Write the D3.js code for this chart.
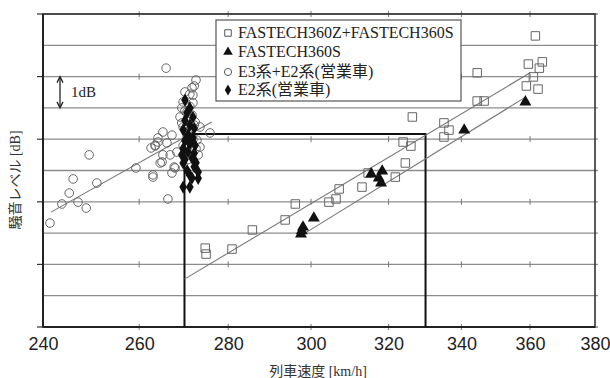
<!DOCTYPE html>
<html>
<head>
<meta charset="utf-8">
<script src="https://cdn.jsdelivr.net/npm/d3@7"></script>
<style>
  body { margin: 0; background: #fff; }
  svg { display: block; }
</style>
</head>
<body>
<svg id="chart" width="610" height="378"></svg>
<script>
'use strict';

// speed [km/h], relative level [dB] (axis has no absolute numbers)
var fastechZS = [
  [274.7, 2.52], [274.9, 2.33], [280.9, 2.49], [285.7, 3.10], [293.6, 3.42],
  [296.1, 3.93], [304.5, 3.99], [306.3, 4.09], [307.1, 4.41], [313.0, 4.47],
  [314.6, 4.92], [321.8, 4.79], [324.5, 5.24], [323.9, 5.91], [326.0, 5.78],
  [326.4, 6.71], [335.1, 6.52], [336.5, 6.29], [335.1, 6.07], [344.5, 8.12],
  [344.5, 7.22], [346.5, 7.22], [361.6, 9.30], [359.5, 8.40], [363.7, 8.47],
  [362.8, 8.27], [361.0, 7.99], [358.9, 7.70], [362.4, 7.60]
];
var fastechS = [
  [297.5, 2.97], [297.7, 3.07], [298.0, 3.19], [300.7, 3.48], [315.4, 4.89],
  [318.3, 4.98], [317.4, 4.76], [318.0, 4.60], [340.8, 6.29], [358.6, 7.19]
];
var e3e2 = [
  [241.4, 3.32], [243.8, 3.93], [245.3, 4.28], [246.1, 4.73], [247.1, 3.99],
  [248.8, 3.80], [251.0, 4.60], [249.4, 5.50], [259.3, 5.08], [263.0, 4.79],
  [262.6, 5.72], [263.5, 5.78], [264.1, 5.91], [266.3, 4.09], [267.7, 5.11],
  [267.2, 4.92], [265.0, 5.27], [264.6, 5.24], [265.9, 8.27], [272.6, 7.89],
  [272.2, 7.70], [271.7, 7.64], [271.2, 7.44], [271.9, 7.41], [270.1, 7.51],
  [269.7, 7.19], [271.9, 7.16], [269.4, 7.00], [270.6, 6.87], [269.0, 6.71],
  [271.7, 6.77], [269.4, 6.52], [272.4, 6.55], [273.5, 6.39], [275.8, 6.20],
  [265.2, 6.23], [267.2, 6.13], [264.1, 6.04], [263.5, 5.81], [266.1, 5.88],
  [265.2, 5.50], [266.8, 5.50], [268.3, 5.59], [267.9, 5.08], [270.6, 6.04],
  [272.8, 5.97], [273.5, 5.75], [273.1, 5.50], [271.2, 6.29], [269.7, 6.39],
  [263.0, 4.86], [270.1, 6.90], [271.2, 7.05], [272.2, 6.45], [270.6, 6.20],
  [271.9, 6.00], [269.7, 5.80], [272.6, 5.70], [270.8, 5.35]
];
var e2 = [
  [270.1, 7.25], [271.2, 7.00], [270.6, 6.85], [271.9, 6.70], [270.1, 6.60],
  [271.2, 6.45], [272.2, 6.35], [269.7, 6.30], [270.8, 6.15], [271.9, 6.05],
  [270.1, 5.95], [271.2, 5.85], [272.4, 5.80], [269.7, 5.70], [270.8, 5.60],
  [272.2, 5.55], [269.4, 5.50], [271.7, 5.40], [270.1, 5.35], [272.6, 5.25],
  [269.7, 5.24], [272.2, 5.12], [270.6, 5.00], [273.1, 4.95], [271.2, 4.85],
  [273.1, 4.75], [271.7, 4.76], [269.7, 4.47], [271.2, 4.47]
];

// regression lines (end points)
var fitZS = [[270, 1.53], [360.0, 8.12]];
var fitS = [[297, 2.88], [358.3, 7.32]];
var fitE3 = [[241.6, 3.67], [276.2, 6.55]];

// evaluation box: 270-330 km/h
var boxSpeeds = [270, 330];
var boxLevel = 6.17;

var xTicks = [240, 260, 280, 300, 320, 340, 360, 380];
var yGrid = d3.range(0, 11);
var legendLabels = ['FASTECH360Z+FASTECH360S', 'FASTECH360S', 'E3系+E2系(営業車)', 'E2系(営業車)'];

var svg = d3.select('#chart');
var plotL = 43, plotR = 595, plotT = 14, plotB = 327;

var x = d3.scaleLog().domain([240, 380]).range([plotL, plotR]);
var y = d3.scaleLinear().domain([0, 10]).range([plotB, plotT]);

var grid = svg.append('g');
// horizontal gridlines, every 1 dB
grid.selectAll('line.h').data(yGrid).enter().append('line')
  .attr('x1', plotL).attr('x2', plotR + 3)
  .attr('y1', function(d){ return y(d); }).attr('y2', function(d){ return y(d); })
  .attr('stroke', '#8c8c8c').attr('stroke-width', 1.3);

// little tick crosses on the even gridlines
yGrid.filter(function(d){ return d % 2 === 0; }).forEach(function(d){
  grid.selectAll(null).data(xTicks.slice(1, -1)).enter().append('line')
    .attr('x1', function(t){ return x(t); }).attr('x2', function(t){ return x(t); })
    .attr('y1', y(d) - 3).attr('y2', y(d) + 3)
    .attr('stroke', '#777').attr('stroke-width', 1);
  grid.append('line')
    .attr('x1', plotL - 6).attr('x2', plotL)
    .attr('y1', y(d)).attr('y2', y(d))
    .attr('stroke', '#333').attr('stroke-width', 1.2);
});

// frame
svg.append('rect')
  .attr('x', plotL).attr('y', plotT).attr('width', plotR - plotL).attr('height', plotB - plotT)
  .attr('fill', 'none').attr('stroke', '#333').attr('stroke-width', 1.6);
svg.append('line')
  .attr('x1', plotL).attr('x2', plotR).attr('y1', plotB).attr('y2', plotB)
  .attr('stroke', '#222').attr('stroke-width', 2);
svg.append('line')
  .attr('x1', plotL).attr('x2', plotL).attr('y1', plotT).attr('y2', plotB)
  .attr('stroke', '#222').attr('stroke-width', 2);

// x axis labels
var xAxis = d3.axisBottom(x).tickValues(xTicks).tickFormat(d3.format('d')).tickSize(0).tickPadding(10);
var gx = svg.append('g').attr('transform', 'translate(0,' + plotB + ')').call(xAxis);
gx.select('.domain').remove();
gx.selectAll('text')
  .attr('font-family', 'Liberation Sans, Arial, sans-serif')
  .attr('font-size', 18).attr('fill', '#222');

// box
var box = d3.path();
box.moveTo(x(boxSpeeds[0]), y(0));
box.lineTo(x(boxSpeeds[0]), y(boxLevel));
box.lineTo(x(boxSpeeds[1]), y(boxLevel));
box.lineTo(x(boxSpeeds[1]), y(0));
svg.append('path').attr('d', box.toString())
  .attr('fill', 'none').attr('stroke', '#111').attr('stroke-width', 2);

// regression lines
var line = d3.line().x(function(d){ return x(d[0]); }).y(function(d){ return y(d[1]); });
[fitZS, fitS, fitE3].forEach(function(f){
  svg.append('path').attr('d', line(f))
    .attr('fill', 'none').attr('stroke', '#777').attr('stroke-width', 1.1);
});

// markers
var pts = svg.append('g');
pts.selectAll('circle').data(e3e2).enter().append('circle')
  .attr('cx', function(d){ return x(d[0]); }).attr('cy', function(d){ return y(d[1]); })
  .attr('r', 4.3).attr('fill', 'none').attr('stroke', '#666').attr('stroke-width', 1);

var diamond = d3.symbol().type(d3.symbolDiamond).size(50);
pts.selectAll('path.e2').data(e2).enter().append('path')
  .attr('d', diamond)
  .attr('transform', function(d){ return 'translate(' + x(d[0]) + ',' + y(d[1]) + ')'; })
  .attr('fill', '#111');

var square = d3.symbol().type(d3.symbolSquare).size(72);
pts.selectAll('path.zs').data(fastechZS).enter().append('path')
  .attr('d', square)
  .attr('transform', function(d){ return 'translate(' + x(d[0]) + ',' + y(d[1]) + ')'; })
  .attr('fill', 'none').attr('stroke', '#666').attr('stroke-width', 1);

var triangle = d3.symbol().type(d3.symbolTriangle).size(62);
pts.selectAll('path.s').data(fastechS).enter().append('path')
  .attr('d', triangle)
  .attr('transform', function(d){ return 'translate(' + x(d[0]) + ',' + y(d[1]) + ')'; })
  .attr('fill', '#111');

// 1dB marker
var dbX = 60;
svg.append('line').attr('x1', dbX).attr('x2', dbX).attr('y1', y(8) + 1).attr('y2', y(7) - 1)
  .attr('stroke', '#222').attr('stroke-width', 1.3);
[[y(8), 1], [y(7), -1]].forEach(function(a){
  svg.append('path')
    .attr('d', 'M' + (dbX - 3) + ',' + (a[0] + 6 * a[1]) + 'L' + dbX + ',' + a[0] + 'L' + (dbX + 3) + ',' + (a[0] + 6 * a[1]))
    .attr('fill', 'none').attr('stroke', '#222').attr('stroke-width', 1.3);
});
svg.append('text').attr('x', 71).attr('y', y(7.5) + 5)
  .attr('font-family', 'Liberation Serif, Times New Roman, serif').attr('font-size', 15)
  .attr('fill', '#222').text('1dB');

// legend
var lg = svg.append('g').attr('transform', 'translate(216,20)');
lg.append('rect').attr('width', 245).attr('height', 81)
  .attr('fill', '#fff').attr('stroke', '#555').attr('stroke-width', 1.2);
var rowY = [13, 32, 52, 70];
var lgSymbols = [
  d3.symbol().type(d3.symbolSquare).size(42),
  d3.symbol().type(d3.symbolTriangle).size(40),
  d3.symbol().type(d3.symbolCircle).size(40),
  d3.symbol().type(d3.symbolDiamond).size(36)
];
legendLabels.forEach(function(lbl, i){
  var open = (i === 0 || i === 2);
  lg.append('path').attr('d', lgSymbols[i])
    .attr('transform', 'translate(12,' + rowY[i] + ')')
    .attr('fill', open ? 'none' : '#111')
    .attr('stroke', open ? '#555' : 'none').attr('stroke-width', 1);
  lg.append('text').attr('x', 22).attr('y', rowY[i] + 5)
    .attr('font-family', 'Liberation Serif, "Noto Sans CJK JP", serif').attr('font-size', 16)
    .attr('fill', '#222').text(lbl);
});

// axis titles
svg.append('text').attr('x', 318).attr('y', 376)
  .attr('text-anchor', 'middle')
  .attr('font-family', 'Liberation Serif, "Noto Sans CJK JP", serif').attr('font-size', 14)
  .attr('fill', '#333').text('列車速度 [km/h]');
svg.append('text')
  .attr('transform', 'translate(20,180) rotate(-90)')
  .attr('text-anchor', 'middle')
  .attr('font-family', 'Liberation Serif, "Noto Sans CJK JP", serif').attr('font-size', 14)
  .attr('fill', '#333').text('騒音レベル [dB]');
</script>
</body>
</html>
